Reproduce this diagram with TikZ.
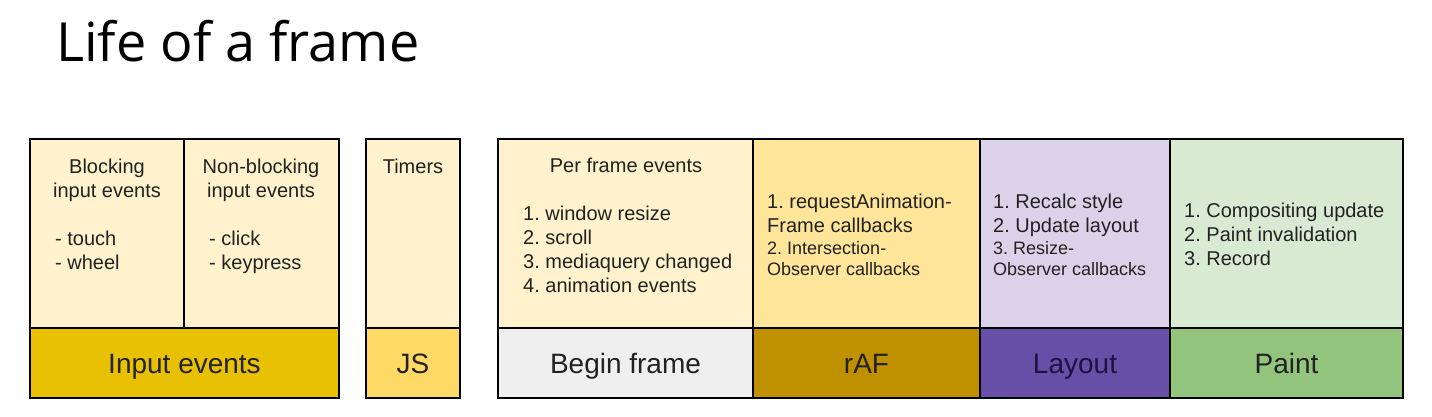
\documentclass[tikz,border=0pt]{standalone}
\usepackage{fontspec}
\setmainfont{Liberation Sans}
\newfontfamily\titlefont{Open Sans}
\frenchspacing
\definecolor{lyel}{HTML}{FFF2CC}
\definecolor{inpc}{HTML}{E9C104}
\definecolor{jsc}{HTML}{FFD966}
\definecolor{beginc}{HTML}{EFEFEF}
\definecolor{raftop}{HTML}{FFE599}
\definecolor{rafc}{HTML}{BF9000}
\definecolor{laytop}{HTML}{D9D2E9}
\definecolor{layc}{HTML}{674EA7}
\definecolor{laytxt}{HTML}{1F1140}
\definecolor{pnttop}{HTML}{D9EAD3}
\definecolor{pntc}{HTML}{93C47D}
\definecolor{txt}{HTML}{222222}
\begin{document}
\begin{tikzpicture}[x=1pt,y=-1pt,
  cell/.style={draw=black, line width=2pt, inner sep=0pt, outer sep=0pt, anchor=north west},
  small/.style={inner sep=0pt, text=txt, font=\frenchspacing\fontsize{20}{24}\selectfont},
  smaller/.style={inner sep=0pt, text=txt, font=\frenchspacing\fontsize{18}{21}\selectfont},
  big/.style={inner sep=0pt, text=txt, font=\fontsize{28}{32}\selectfont, anchor=base}]
\useasboundingbox[fill=white] (0,0) rectangle (1432,417);

% title
\node[inner sep=0pt, anchor=base west, font=\titlefont\fontsize{54}{60}\selectfont] (title) at (56,62) {Life of a frame};

% cells
\node[cell, fill=lyel, minimum width=154pt, minimum height=189pt] (blk) at (30,139) {};
\node[cell, fill=lyel, minimum width=155pt, minimum height=189pt] (nblk) at (184,139) {};
\node[cell, fill=inpc, minimum width=309pt, minimum height=70pt] (inp) at (30,328) {};
\node[cell, fill=lyel, minimum width=94pt, minimum height=189pt] (tmr) at (366,139) {};
\node[cell, fill=jsc, minimum width=94pt, minimum height=70pt] (js) at (366,328) {};
\node[cell, fill=lyel, minimum width=255pt, minimum height=189pt] (pfe) at (498,139) {};
\node[cell, fill=beginc, minimum width=255pt, minimum height=70pt] (bf) at (498,328) {};
\node[cell, fill=raftop, minimum width=227pt, minimum height=189pt] (raft) at (753,139) {};
\node[cell, fill=rafc, minimum width=227pt, minimum height=70pt] (raf) at (753,328) {};
\node[cell, fill=laytop, minimum width=190pt, minimum height=189pt] (layt) at (980,139) {};
\node[cell, fill=layc, minimum width=190pt, minimum height=70pt] (lay) at (980,328) {};
\node[cell, fill=pnttop, minimum width=233pt, minimum height=189pt] (pntt) at (1170,139) {};
\node[cell, fill=pntc, minimum width=233pt, minimum height=70pt] (pnt) at (1170,328) {};

% blocking
\node[small, anchor=base] (b1) at (107,173) {Blocking};
\node[small, anchor=base] (b2) at (107,197) {input events};
\node[small, anchor=base west] (b3) at (55,245) {- touch};
\node[small, anchor=base west] (b4) at (55,269) {- wheel};
% non-blocking
\node[small, anchor=base] (n1) at (261,173) {Non-blocking};
\node[small, anchor=base] (n2) at (261,197) {input events};
\node[small, anchor=base west] (n3) at (209,245) {- click};
\node[small, anchor=base west] (n4) at (209,269) {- keypress};
% timers
\node[small, anchor=base] (t1) at (413,173) {Timers};
% per frame
\node[small, anchor=base] (p0) at (626,172) {Per frame events};
\node[small, anchor=base west] (p1) at (523,220) {1. window resize};
\node[small, anchor=base west] (p2) at (523,244) {2. scroll};
\node[small, anchor=base west] (p3) at (523,268) {3. mediaquery changed};
\node[small, anchor=base west] (p4) at (523,292) {4. animation events};
% rAF
\node[small, anchor=base west] (r1) at (767,208) {1. requestAnimation-};
\node[small, anchor=base west] (r2) at (767,232) {Frame callbacks};
\node[smaller, anchor=base west] (r3) at (767,254) {2. Intersection-};
\node[smaller, anchor=base west] (r4) at (767,275) {Observer callbacks};
% layout
\node[small, anchor=base west] (l1) at (993,208) {1. Recalc style};
\node[small, anchor=base west] (l2) at (993,232) {2. Update layout};
\node[smaller, anchor=base west] (l3) at (993,254) {3. Resize-};
\node[smaller, anchor=base west] (l4) at (993,275) {Observer callbacks};
% paint
\node[small, anchor=base west] (q1) at (1184,217) {1. Compositing update};
\node[small, anchor=base west] (q2) at (1184,241) {2. Paint invalidation};
\node[small, anchor=base west] (q3) at (1184,265) {3. Record};

% bottom labels
\node[big] (linp) at (184.5,373) {Input events};
\node[big] (ljs) at (413,373) {JS};
\node[big] (lbf) at (625.5,373) {Begin frame};
\node[big] (lraf) at (866.5,373) {rAF};
\node[big, text=laytxt] (llay) at (1075,373) {Layout};
\node[big] (lpnt) at (1286.5,373) {Paint};
\end{tikzpicture}
\end{document}
